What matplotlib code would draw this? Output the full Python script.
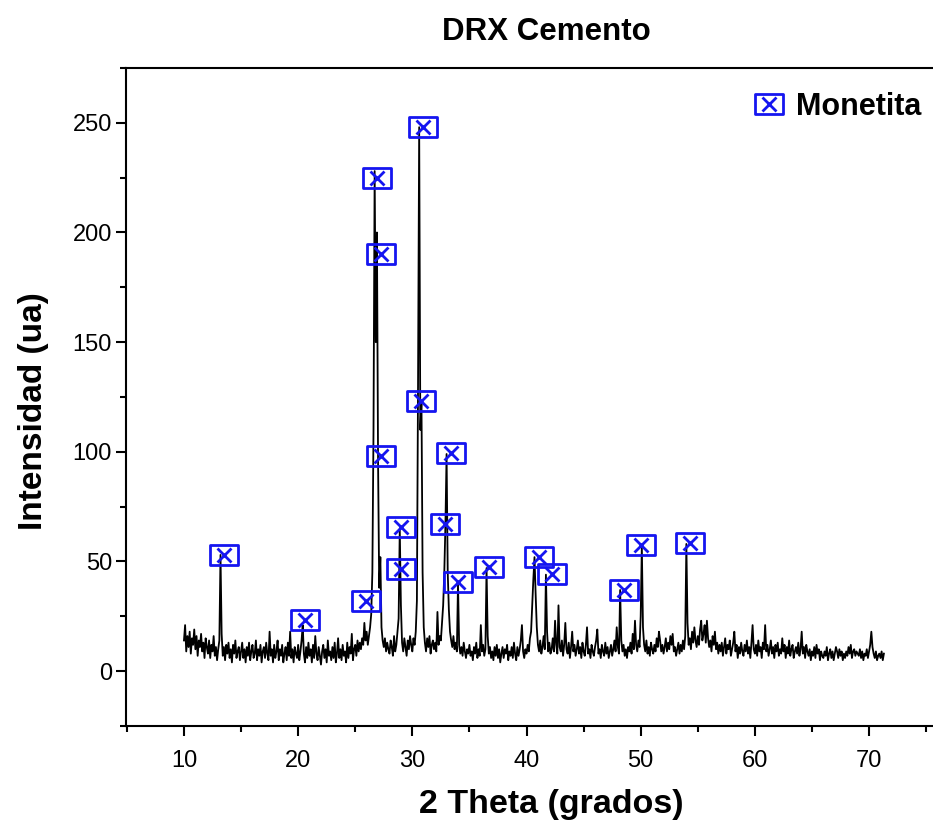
import numpy as np
import matplotlib
matplotlib.use("Agg")
import matplotlib.pyplot as plt
from matplotlib.path import Path
from matplotlib.legend_handler import HandlerTuple

plt.rcParams['font.family'] = ['Liberation Sans', 'DejaVu Sans']

# DRX pattern, 2theta from 10.0 in steps of 0.1 (one row per degree)
two_theta_start = 10.0
two_theta_step = 0.1
intensity = [
    14, 21, 9, 16, 11, 18, 8, 15, 12, 19,        # 10
    10, 16, 7, 14, 11, 17, 9, 13, 6, 15,         # 11
    11, 8, 14, 6, 12, 9, 16, 7, 11, 5,           # 12
    10, 14, 53, 17, 7, 11, 5, 12, 8, 13,         # 13
    6, 10, 4, 12, 8, 14, 6, 9, 11, 5,            # 14
    9, 13, 6, 10, 4, 11, 7, 13, 5, 9,            # 15
    12, 6, 8, 14, 5, 10, 7, 12, 4, 9,            # 16
    11, 6, 13, 8, 5, 18, 7, 10, 4, 12,           # 17
    6, 9, 14, 5, 10, 7, 12, 4, 8, 11,            # 18
    5, 13, 7, 18, 6, 10, 4, 11, 8, 6,            # 19
    12, 5, 9, 14, 21, 8, 4, 11, 6, 13,           # 20
    7, 10, 4, 12, 6, 16, 8, 5, 11, 7,            # 21
    3, 9, 12, 6, 10, 4, 14, 7, 9, 5,             # 22
    11, 6, 13, 4, 8, 15, 6, 10, 5, 12,           # 23
    7, 9, 4, 13, 6, 11, 8, 17, 5, 10,            # 24
    12, 7, 14, 9, 13, 10, 15, 12, 22, 14,        # 25
    18, 12, 16, 20, 26, 45, 110, 228, 150, 200,  # 26
    95, 38, 52, 20, 14, 11, 15, 9, 13, 10,       # 27
    8, 14, 11, 7, 16, 9, 12, 18, 24, 65,         # 28
    30, 13, 9, 15, 11, 7, 14, 10, 16, 12,        # 29
    9, 15, 12, 18, 32, 130, 248, 110, 123, 45,   # 30
    20, 13, 9, 15, 11, 16, 8, 12, 14, 10,        # 31
    13, 9, 27, 12, 16, 14, 22, 30, 45, 67,       # 32
    99, 45, 28, 18, 14, 11, 16, 10, 13, 9,       # 33
    40, 12, 8, 11, 7, 13, 9, 6, 10, 8,           # 34
    12, 7, 9, 5, 11, 8, 13, 6, 10, 7,            # 35
    21, 9, 12, 7, 10, 47, 16, 8, 11, 6,          # 36
    9, 5, 11, 7, 12, 6, 10, 4, 8, 11,            # 37
    6, 10, 8, 12, 5, 9, 7, 11, 6, 13,            # 38
    8, 5, 11, 7, 10, 14, 21, 9, 6, 10,           # 39
    8, 12, 9, 15, 18, 30, 42, 52, 35, 20,        # 40
    12, 9, 14, 8, 11, 16, 10, 44, 18, 9,         # 41
    13, 8, 10, 15, 9, 23, 12, 8, 30, 11,         # 42
    9, 14, 7, 12, 22, 10, 8, 13, 6, 11,          # 43
    18, 9, 12, 7, 10, 14, 8, 11, 6, 13,          # 44
    9, 7, 12, 20, 8, 10, 6, 12, 9, 7,            # 45
    11, 14, 19, 8, 10, 6, 12, 9, 7, 13,          # 46
    8, 11, 6, 9, 12, 7, 10, 14, 9, 20,           # 47
    11, 8, 37, 14, 9, 12, 7, 10, 6, 11,          # 48
    9, 13, 8, 17, 10, 23, 12, 9, 14, 11,         # 49
    25, 57, 20, 12, 9, 14, 8, 11, 7, 13,         # 50
    10, 8, 12, 9, 15, 11, 18, 14, 9, 12,         # 51
    8, 11, 15, 9, 13, 10, 16, 12, 17, 9,         # 52
    11, 7, 10, 13, 8, 12, 9, 14, 10, 16,         # 53
    58, 22, 12, 15, 10, 18, 13, 20, 14, 11,      # 54
    16, 12, 19, 23, 14, 17, 21, 13, 23, 15,      # 55
    11, 14, 9, 16, 12, 18, 10, 13, 8, 12,        # 56
    9, 13, 7, 11, 15, 8, 12, 10, 14, 7,          # 57
    10, 13, 18, 9, 12, 6, 11, 8, 13, 9,          # 58
    7, 12, 9, 14, 8, 11, 6, 13, 21, 10,          # 59
    8, 12, 7, 14, 9, 11, 6, 13, 10, 21,          # 60
    9, 12, 7, 10, 14, 8, 11, 6, 12, 9,           # 61
    13, 7, 10, 8, 15, 9, 12, 6, 11, 8,           # 62
    14, 7, 10, 12, 6, 9, 11, 8, 13, 7,           # 63
    10, 18, 8, 11, 6, 12, 9, 7, 10, 5,           # 64
    9, 7, 11, 6, 12, 8, 10, 5, 9, 7,             # 65
    6, 9, 7, 11, 5, 8, 10, 6, 9, 5,              # 66
    8, 11, 9, 6, 10, 7, 9, 5, 8, 6,              # 67
    9, 7, 11, 8, 12, 6, 9, 10, 7, 9,             # 68
    8, 7, 10, 6, 9, 5, 8, 7, 10, 6,              # 69
    9, 12, 18, 11, 8, 6, 9, 5, 7, 8,             # 70
    6, 9, 5, 8,                                  # 71
]

# Monetita peak labels
mon_x = [13.5, 20.6, 25.9, 26.9, 27.3, 27.3, 29.0, 29.0, 30.9, 30.8,
         33.4, 32.9, 34.0, 36.7, 41.1, 42.2, 48.5, 50.0, 54.3]
mon_y = [53, 23.5, 32, 225, 190, 98, 65.5, 46.5, 248, 123,
         99.5, 67, 40.5, 47.5, 52, 44.5, 37, 57.5, 58.5]

two_theta = two_theta_start + two_theta_step * np.arange(len(intensity))

fig = plt.figure(figsize=(9.33, 8.25), dpi=100)
ax = fig.add_axes([0.135, 0.12, 0.865, 0.7976])

ax.plot(two_theta, intensity, color='black', linewidth=1.3)

box = Path([(-1.45, -1), (1.45, -1), (1.45, 1), (-1.45, 1), (-1.45, -1)],
           [Path.MOVETO, Path.LINETO, Path.LINETO, Path.LINETO, Path.CLOSEPOLY])
h_box, = ax.plot(mon_x, mon_y, linestyle='none', marker=box, markersize=20,
                 markerfacecolor='none', markeredgecolor='#1515f0', markeredgewidth=2.0)
h_x, = ax.plot(mon_x, mon_y, linestyle='none', marker='x', markersize=10,
               markeredgecolor='#1515f0', markeredgewidth=2.0)

ax.set_xlim(4.92, 75.6)
ax.set_ylim(-24.5, 274.5)
ax.set_xticks([10, 20, 30, 40, 50, 60, 70])
ax.set_xticks(np.arange(5, 76, 5), minor=True)
ax.set_yticks([0, 50, 100, 150, 200, 250])
ax.set_yticks(np.arange(-25, 276, 25), minor=True)
ax.tick_params(which='major', direction='out', length=7, width=1.5, labelsize=17)
ax.tick_params(axis='x', which='major', pad=10)
ax.tick_params(axis='y', which='major', pad=3)
ax.tick_params(which='minor', direction='out', length=4, width=1.5)
ax.tick_params(top=False, right=False)
for s in ['left', 'bottom', 'top']:
    ax.spines[s].set_linewidth(1.5)
ax.spines['right'].set_visible(False)

ax.set_xlabel('2 Theta (grados)', fontsize=24.5, fontweight='bold')
ax.xaxis.set_label_coords(0.527, -0.096)
ax.set_ylabel('Intensidad (ua)', fontsize=24, fontweight='bold')
ax.yaxis.set_label_coords(-0.095, 0.479)
fig.suptitle('DRX Cemento', fontsize=22.5, fontweight='bold', x=0.586, y=0.98)

ax.legend([(h_box, h_x)], ['Monetita'], handler_map={tuple: HandlerTuple(ndivide=1)},
          loc='upper right', frameon=False, handlelength=1.2, handletextpad=0.3,
          prop={'size': 22, 'weight': 'bold'}, bbox_to_anchor=(1.02, 1.005))

fig.savefig('out.png', dpi=100)
